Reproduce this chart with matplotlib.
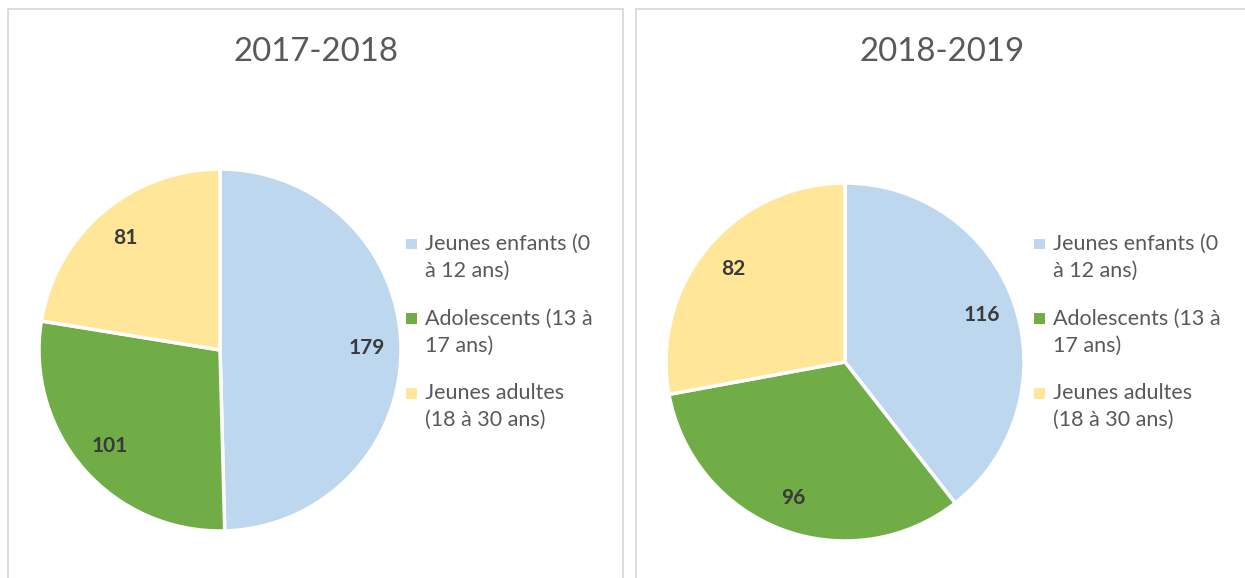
import matplotlib
matplotlib.use("Agg")
import matplotlib.pyplot as plt
from matplotlib.patches import Rectangle, Patch
from matplotlib.legend_handler import HandlerPatch

plt.rcParams['font.family'] = ['Lato', 'DejaVu Sans']

categories = ["Jeunes enfants (0\nà 12 ans)", "Adolescents (13 à\n17 ans)", "Jeunes adultes\n(18 à 30 ans)"]
titles = ["2017-2018", "2018-2019"]
values_2017 = [179, 101, 81]
values_2018 = [116, 96, 82]
colors = ["#BDD7EE", "#70AD47", "#FFE699"]

W, H = 1245, 578
fig = plt.figure(figsize=(W / 100, H / 100), dpi=100)
fig.patch.set_facecolor("white")


class TopSquare(HandlerPatch):
    def create_artists(self, legend, orig_handle, xdescent, ydescent,
                       width, height, fontsize, trans):
        s = min(width, height)
        r = Rectangle((-xdescent, -ydescent + 10.5), s, s,
                      facecolor=orig_handle.get_facecolor(), edgecolor="none",
                      transform=trans)
        return [r]


def px(x0, y0, w, h):
    return [x0 / W, 1 - (y0 + h) / H, w / W, h / H]

# panel borders
for (x0, x1) in [(7.5, 622.5), (636, 1260)]:
    fig.patches.append(Rectangle((x0 / W, -0.1), (x1 - x0) / W, (H - 9) / H + 0.1,
                                 transform=fig.transFigure, fill=False,
                                 edgecolor="#D9D9D9", linewidth=1.3))

panels = [
    (values_2017, titles[0], (39, 169, 362, 362), 316, (406, 234)),
    (values_2018, titles[1], (666, 183, 358, 358), 942, (1034, 234)),
]

for vals, title, box, tx, (lx, ly) in panels:
    ax = fig.add_axes(px(*box))
    total = sum(vals)
    wedges, texts, autotexts = ax.pie(
        vals, colors=colors, startangle=90, counterclock=False,
        wedgeprops=dict(edgecolor="white", linewidth=2.5),
        autopct=lambda p, t=total: f"{round(p * t / 100):d}",
        pctdistance=0.81,
        textprops=dict(color="#3A3A3A", fontsize=15, fontweight="bold"))
    ax.set_xlim(-1.0, 1.0)
    ax.set_ylim(-1.0, 1.0)
    ax.set_aspect("equal")
    fig.text(tx / W, 1 - 52 / H, title, ha="center", va="center",
             fontsize=23.8, color="#595959")
    handles = [Patch(facecolor=c, edgecolor="none") for c in colors]
    leg = fig.legend(handles, categories, loc="upper left",
                     bbox_to_anchor=(lx / W, 1 - ly / H), frameon=False,
                     fontsize=15.5, labelcolor="#595959", handlelength=0.5,
                     handleheight=0.5, handletextpad=0.4, labelspacing=1.3,
                     borderaxespad=0, borderpad=0,
                     handler_map={Patch: TopSquare()})
    for t in leg.get_texts():
        t.set_linespacing(1.42)

fig.savefig("out.png", dpi=100, facecolor="white")
